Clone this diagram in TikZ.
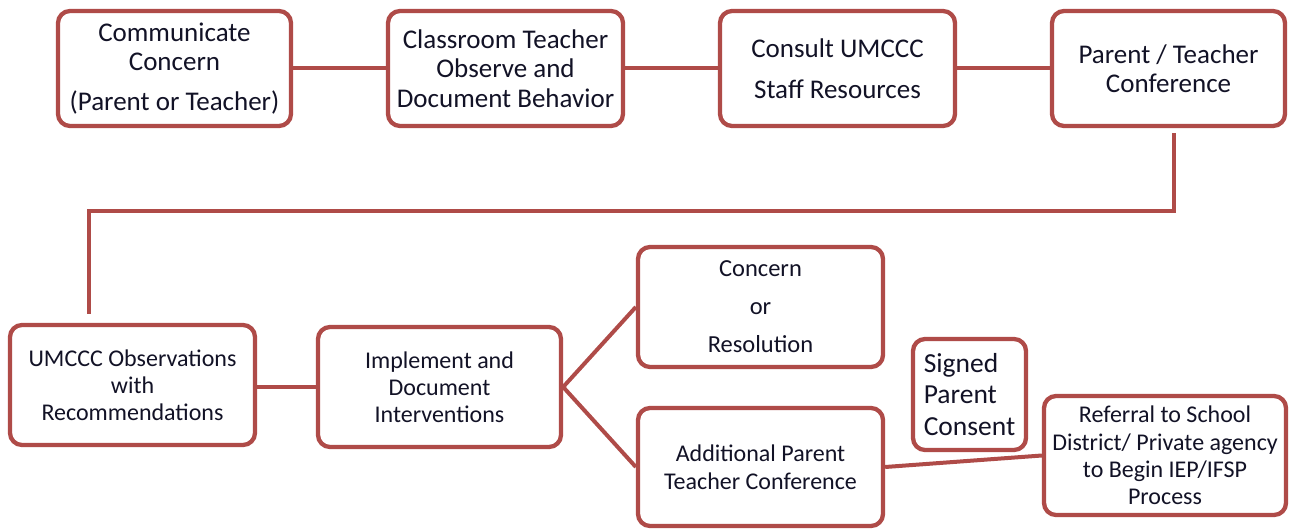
\documentclass[tikz,border=0pt]{standalone}
\usepackage{fontspec}
\setmainfont{Carlito}
\definecolor{boxred}{RGB}{175,75,72}
\definecolor{txtdark}{RGB}{18,18,38}

\begin{document}
\begin{tikzpicture}[x=1pt,y=-1pt,
    box/.style={draw=boxred,line width=4.3pt,rounded corners=12pt,fill=white,
        align=center,inner sep=0pt,text=txtdark,
        minimum width=233pt,minimum height=115pt,
        font=\fontsize{27}{29.5}\selectfont},
    low/.style={minimum width=245pt,minimum height=120pt,
        font=\fontsize{24}{27}\selectfont},
    link/.style={draw=boxred,line width=4pt}]
    \useasboundingbox (0,0) rectangle (1289,529);

    \node[box] (comm) at (174.5,68.5) {Communicate\\Concern\\[10pt](Parent or Teacher)};
    \node[box,minimum width=235pt] (obsv) at (505.5,68.5) {Classroom Teacher\\Observe and\\Document Behavior};
    \node[box,minimum width=235pt] (staff) at (837.5,68.5) {Consult UMCCC\\[11pt]Staff Resources};
    \node[box] (conf) at (1168.5,68.5) {Parent / Teacher\\Conference};

    \node[box,low] (umobs) at (132.5,385) {UMCCC Observations\\with\\Recommendations};
    \node[box,low,minimum width=243pt] (impl) at (439.5,387) {Implement and\\Document\\Interventions};
    \node[box,low,font=\fontsize{24.5}{29}\selectfont] (res) at (760.5,307) {Concern\\[9pt]or\\[9pt]Resolution};
    \node[box,low,minimum height=118pt,font=\fontsize{24}{28}\selectfont] (addl) at (760.5,467) {Additional Parent\\Teacher Conference};
    \node[box,minimum width=113pt,minimum height=111pt,align=left,
        font=\fontsize{27.5}{31.5}\selectfont] (consent) at (969.5,394.5) {Signed\\Parent\\Consent};
    \node[box,low,minimum width=242pt,minimum height=119pt,
        font=\fontsize{24}{27.3}\selectfont] (refer) at (1165,455.5) {Referral to School\\District/ Private agency\\to Begin IEP/IFSP\\Process};

    \coordinate (turn) at (89,211);
    \coordinate (drop) at (89,314);

    \draw[link] (comm.east) -- (obsv.west);
    \draw[link] (obsv.east) -- (staff.west);
    \draw[link] (staff.east) -- (conf.west);
    \draw[link] ([xshift=5.5pt,yshift=-5pt]conf.south) |- (turn) -- (drop);
    \draw[link] ([yshift=-2pt]umobs.east) -- (impl.west);
    \draw[link] (impl.east) -- (res.west);
    \draw[link] (impl.east) -- (addl.west);
    \draw[link] (addl.east) -- (refer.west);
\end{tikzpicture}
\end{document}
